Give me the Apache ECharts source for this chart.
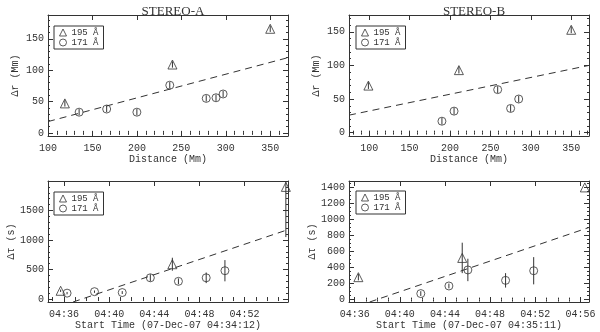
<!DOCTYPE html>
<html>
<head>
<meta charset="utf-8">
<script src="https://cdn.jsdelivr.net/npm/echarts@6/dist/echarts.min.js"></script>
<style>
html, body { margin: 0; padding: 0; background: #fff; }
#chart { width: 600px; height: 332px; }
</style>
</head>
<body>
<div id="chart"></div>
<script>
// STEREO-A: delta r vs distance
const a195Dist = [119, 240, 350]
const a195Dr = [47, 109, 166]
const a171Dist = [135, 166, 200, 237, 278, 289, 297]
const a171Dr = [33, 38, 33, 76, 55, 56, 62]
const aFitDist = [100, 370]
const aFitDr = [18, 120]

// STEREO-B: delta r vs distance
const b195Dist = [99, 211, 350]
const b195Dr = [70, 93, 153]
const b171Dist = [190, 205, 259, 275, 285]
const b171Dr = [17, 32, 64, 36, 50]
const bFitDist = [75, 372]
const bFitDr = [26, 100]

// start times in minutes after 04:00, delta tau in s
const c195T = [35.7, 45.6, 55.66]
const c195Dt = [140, 590, 1900]
const c195Err = [20, 110, 850]
const c171T = [36.27, 38.7, 41.16, 43.65, 46.14, 48.6, 50.26]
const c171Dt = [100, 125, 110, 360, 300, 360, 480]
const c171Err = [20, 20, 25, 60, 50, 90, 180]
const cFitT = [36.8, 55.85]
const cFitDt = [-50, 1176]

const d195T = [36.33, 45.53, 56.39]
const d195Dt = [280, 520, 1400]
const d195Err = [40, 190, 0]
const d171T = [41.86, 44.35, 46.03, 49.37, 51.86]
const d171Dt = [75, 170, 370, 240, 360]
const d171Err = [30, 30, 140, 90, 170]
const dFitT = [37.33, 56.76]
const dFitDt = [-30, 900]

// tick labels
const distTicksA = [100, 150, 200, 250, 300, 350]
const distTicksB = [100, 150, 200, 250, 300, 350]
const drTicks = [0, 50, 100, 150]
const timeTicksC = [36, 40, 44, 48, 52]
const timeTicksD = [36, 40, 44, 48, 52, 56]
const dtTicksC = [0, 500, 1000, 1500]
const dtTicksD = [0, 200, 400, 600, 800, 1000, 1200, 1400]

const INK = '#333'
const MONO = 'Liberation Mono'
const topErr = 5

function steps(min, max, step) {
  const out = []
  for (let v = Math.ceil(min / step) * step; v <= max; v += step) out.push(+v.toFixed(3))
  return out
}
const hhmm = v => '04:' + String(Math.round(v)).padStart(2, '0')
const plain = v => String(v)

const xAxes = []
const yAxes = []
// main axis (labels + major ticks), minor ticks, and mirrored box side
function addAxes(list, dim, grid, min, max, major, minorStep, o) {
  const pos = dim === 'x' ? ['bottom', 'top'] : ['left', 'right']
  const minor = steps(min, max, minorStep)
  const base = { gridIndex: grid, type: 'value', min: min, max: max, splitLine: { show: false } }
  const tick = (vals, len) => ({ show: true, inside: true, length: len, customValues: vals, lineStyle: { color: INK, width: 1 } })
  list.push(Object.assign({}, base, {
    position: pos[0],
    axisLine: { show: true, onZero: false, lineStyle: { color: INK, width: 1 } },
    axisTick: tick(major, 5),
    axisLabel: { show: true, customValues: major, formatter: o.fmt || plain, fontFamily: MONO, fontSize: 10, color: INK, margin: o.margin },
    name: o.name, nameLocation: 'middle', nameGap: o.nameGap,
    nameTextStyle: { fontFamily: MONO, fontSize: 10, color: INK }
  }))
  list.push(Object.assign({}, base, { position: pos[0], axisLine: { show: false }, axisTick: tick(minor, 2), axisLabel: { show: false } }))
  list.push(Object.assign({}, base, { position: pos[1], axisLine: { show: true, onZero: false, lineStyle: { color: INK, width: 1 } }, axisTick: tick(major, 5), axisLabel: { show: false } }))
  list.push(Object.assign({}, base, { position: pos[1], axisLine: { show: false }, axisTick: tick(minor, 2), axisLabel: { show: false } }))
}

addAxes(xAxes, 'x', 0, 100, 370, distTicksA, 10, { name: 'Distance (Mm)', nameGap: 17, margin: 7 })
addAxes(yAxes, 'y', 0, -5, 188, drTicks, 10, { name: 'Δr (Mm)', nameGap: 28, margin: 4 })
addAxes(xAxes, 'x', 1, 75, 372, distTicksB, 10, { name: 'Distance (Mm)', nameGap: 17, margin: 7 })
addAxes(yAxes, 'y', 1, -5, 175, drTicks, 10, { name: 'Δr (Mm)', nameGap: 28, margin: 4 })
addAxes(xAxes, 'x', 2, 34.58, 55.85, timeTicksC, 1, { name: 'Start Time (07-Dec-07 04:34:12)', nameGap: 17, margin: 7, fmt: hhmm })
addAxes(yAxes, 'y', 2, -50, 2000, dtTicksC, 100, { name: 'Δτ (s)', nameGap: 32, margin: 4 })
addAxes(xAxes, 'x', 3, 35.5, 56.76, timeTicksD, 1, { name: 'Start Time (07-Dec-07 04:35:11)', nameGap: 17, margin: 7, fmt: hhmm })
addAxes(yAxes, 'y', 3, -30, 1480, dtTicksD, 50, { name: 'Δτ (s)', nameGap: 32, margin: 4 })

const zip = (xs, ys) => xs.map((x, i) => [x, ys[i]])
const errData = (xs, ys, es) => xs.map((x, i) => [x, ys[i] - es[i], ys[i] + es[i]])

function panelSeries(g, x195, y195, e195, x171, y171, e171, fitX, fitY) {
  const idx = { xAxisIndex: g * 4, yAxisIndex: g * 4 }
  const scatter = (name, sym, size, xs, ys) => Object.assign({
    name: name, type: 'scatter', symbol: sym, symbolSize: size, z: 2,
    itemStyle: { color: 'rgba(0,0,0,0)', borderColor: INK, borderWidth: 1 }, data: zip(xs, ys)
  }, idx)
  const bars = (xs, ys, es) => Object.assign({
    type: 'custom', z: 3, clip: true, data: errData(xs, ys, es),
    renderItem: (params, api) => {
      const p1 = api.coord([api.value(0), api.value(1)])
      const p2 = api.coord([api.value(0), api.value(2)])
      return { type: 'line', shape: { x1: p1[0], y1: p1[1], x2: p2[0], y2: p2[1] }, style: { stroke: INK, lineWidth: 1 } }
    }
  }, idx)
  return [
    Object.assign({
      type: 'line', data: zip(fitX, fitY), symbol: 'none', silent: true,
      lineStyle: { color: INK, width: 1, type: [7, 5] }
    }, idx),
    scatter('195 Å', 'triangle', 9, x195, y195),
    scatter('171 Å', 'circle', 8, x171, y171),
    bars(x195, y195, e195),
    bars(x171, y171, e171)
  ]
}

const fill = (arr, v) => arr.map(() => v)

const legendPos = [[54, 26], [356, 26], [54, 192], [356, 191]]

const option = {
  animation: false,
  backgroundColor: '#fff',
  title: [
    { text: 'STEREO-A', left: 168, top: 0, textAlign: 'center', textStyle: { fontFamily: 'Liberation Serif', fontWeight: 'normal', fontSize: 13, color: INK } },
    { text: 'STEREO-B', left: 469, top: 0, textAlign: 'center', textStyle: { fontFamily: 'Liberation Serif', fontWeight: 'normal', fontSize: 13, color: INK } }
  ],
  grid: [
    { left: 48, top: 15, width: 240, height: 121 },
    { left: 349, top: 15, width: 240, height: 121 },
    { left: 48, top: 181, width: 240, height: 121 },
    { left: 349, top: 181, width: 240, height: 121 }
  ],
  legend: legendPos.map(p => ({
    data: ['195 Å', '171 Å'], left: p[0], top: p[1], orient: 'vertical', selectedMode: false,
    borderColor: INK, borderWidth: 1, borderRadius: 0, padding: [2, 5, 2, 5], itemGap: 1,
    itemWidth: 7, itemHeight: 7,
    itemStyle: { color: 'rgba(0,0,0,0)', borderColor: INK, borderWidth: 1 },
    textStyle: { fontFamily: MONO, fontSize: 9, color: INK }
  })),
  xAxis: xAxes,
  yAxis: yAxes,
  series: [].concat(
    panelSeries(0, a195Dist, a195Dr, fill(a195Dist, topErr), a171Dist, a171Dr, fill(a171Dist, topErr), aFitDist, aFitDr),
    panelSeries(1, b195Dist, b195Dr, fill(b195Dist, topErr), b171Dist, b171Dr, fill(b171Dist, topErr), bFitDist, bFitDr),
    panelSeries(2, c195T, c195Dt, c195Err, c171T, c171Dt, c171Err, cFitT, cFitDt),
    panelSeries(3, d195T, d195Dt, d195Err, d171T, d171Dt, d171Err, dFitT, dFitDt)
  )
}

const myChart = echarts.init(document.getElementById('chart'))
myChart.setOption(option)
</script>
</body>
</html>
